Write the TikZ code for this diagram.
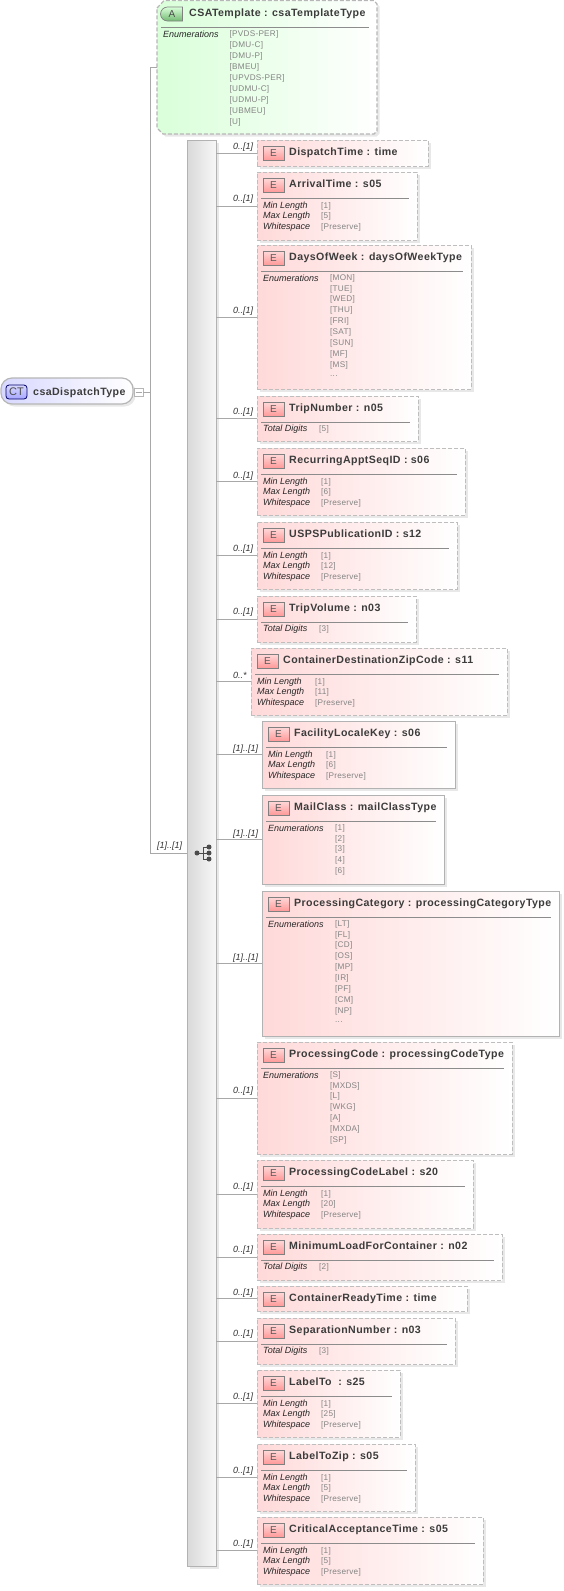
\documentclass[tikz,border=0pt]{standalone}
\usepackage{fontspec}
\setmainfont{Liberation Sans}
\newfontfamily\ttlfont[LetterSpace=4]{Liberation Sans}
\newfontfamily\valfont[LetterSpace=3]{Liberation Sans}
\usetikzlibrary{shadows,shapes.misc}
\definecolor{edge}{HTML}{B6B6B6}
\definecolor{boxedge}{HTML}{BEBEBE}
\definecolor{solidedge}{HTML}{B2B2B2}
\definecolor{conncol}{HTML}{A8A8A8}
\definecolor{pinkL}{HTML}{FFD9D9}
\definecolor{greenL}{HTML}{D9FFD9}
\definecolor{blueL}{HTML}{D8D8FF}
\definecolor{txt}{HTML}{3C3C3C}
\definecolor{valc}{HTML}{848484}
\newcommand\ddd{...}
\tikzset{
  x=1pt,y=-1pt,
  softshadow/.style={general shadow={fill=black,opacity=.09,shadow xshift=2.5pt,shadow yshift=-2.5pt}},
  elembox/.style={rectangle,draw=boxedge,line width=1pt,inner sep=0,outer sep=0,left color=pinkL,right color=white,softshadow},
  dashedbox/.style={dash pattern=on 4pt off 2pt},
  solidbox/.style={draw=solidedge},
  conn/.style={draw=conncol,line width=.8pt},
  rulec/.style={draw=black!45,line width=.8pt},
  titletext/.style={anchor=base west,inner sep=0,text=txt,font=\ttlfont\bfseries\fontsize{10.6}{11}\selectfont},
  facetlabel/.style={anchor=west,inner sep=0,text=black!85,font=\fontsize{9}{9}\itshape\selectfont},
  facetval/.style={anchor=west,inner sep=0,text=valc,font=\valfont\fontsize{8.2}{8.2}\selectfont},
  multi/.style={anchor=west,inner sep=0,text=black!80,font=\fontsize{9}{9}\itshape\selectfont},
  eicon/.style={rectangle,draw=black!50,line width=.7pt,inner sep=0,top color=pinkL,bottom color=red!40!white,minimum width=21pt,minimum height=14pt,text=black!65,font=\fontsize{10}{10}\selectfont},
}
% #1 name, #2 style, #3 left, #4 right, #5 top, #6 bottom, #7 title
\newcommand\elem[7]{%
  \node[elembox,#2,minimum width={(#4-#3)*1pt},minimum height={(#6-#5)*1pt}] (#1) at ({(#3+#4)/2},{(#5+#6)/2}) {};
  \node[eicon] (#1-icon) at ({#3+16.5},{#5+13}) {E};
  \node[titletext] (#1-title) at ({#3+32},{#5+15}) {#7};
  \draw[conn] (#1.west) -- (#1.west -| bar.east);
}
\newcommand\mult[3]{\node[multi] (#1-mult) at (233,{#2}) {#3};}
\newcommand\hrul[3]{\draw[rulec] ({#1+4},{#3+26}) -- ({#2-8},{#3+26});}
% #1 left, #2 top, #3 max
\newcommand\lenfacets[3]{%
  \node[facetlabel] at ({#1+6},{#2+34}) {Min Length};
  \node[facetlabel] at ({#1+6},{#2+44.3}) {Max Length};
  \node[facetlabel] at ({#1+6},{#2+55}) {Whitespace};
  \node[facetval] at ({#1+64},{#2+34}) {[1]};
  \node[facetval] at ({#1+64},{#2+44.3}) {[#3]};
  \node[facetval] at ({#1+64},{#2+55}) {[Preserve]};
}
\newcommand\digits[3]{%
  \node[facetlabel] at ({#1+6},{#2+33}) {Total Digits};
  \node[facetval] at ({#1+62},{#2+33}) {[#3]};
}
% #1 left, #2 top, #3 list
\newcommand\enums[3]{%
  \node[facetlabel] at ({#1+6},{#2+33}) {Enumerations};
  \foreach \v [count=\i from 0] in {#3} {
    \node[facetval] at ({#1+73},{#2+33+10.93*\i}) {\v};
  }
}
\begin{document}
\begin{tikzpicture}
\useasboundingbox (0,0) rectangle (564,1591);
% group bar
\node[rectangle,draw=solidedge,line width=1pt,inner sep=0,outer sep=0,left color=black!15,right color=black!3,softshadow,minimum width=29pt,minimum height=1426pt] (bar) at (201.5,853) {};
% root type
\node[rectangle,rounded corners=11pt,draw=edge,line width=1.2pt,left color=blueL,right color=white,inner sep=0,outer sep=0,softshadow,minimum width=132pt,minimum height=26pt] (ct) at (67,391) {};
\node[rectangle,rounded corners=3pt,draw=black!60!blue,line width=.8pt,top color=blueL,bottom color=blue!35!white,inner sep=0,minimum width=21pt,minimum height=14pt,text=black!70,font=\fontsize{11}{11}\selectfont] (cticon) at (16.5,392) {CT};
\node[titletext] (cttitle) at (33,395) {csaDispatchType};
\node[rectangle,draw=edge,line width=.8pt,fill=white,inner sep=0,outer sep=0,minimum width=9pt,minimum height=8pt] (collapse) at (138.5,392) {};
\draw[conncol,line width=.8pt] (135.5,392) -- (141.5,392);
% trunk
\coordinate (trunk) at (150,392);
\draw[conn] (collapse.east) -- (trunk);
% attribute
\node[rectangle,inner sep=0,outer sep=0,minimum width=220pt,minimum height=134pt] (csa) at (267,67) {};
\path[draw=edge,line width=1.2pt,dash pattern=on 4pt off 2pt,left color=greenL,right color=white,softshadow]
  (157,8) -- (164,0.6) -- (374,0.6) -- (377,4) -- (377,131) -- (374,134) -- (163,134) -- (157,128) -- cycle;
\node[rounded rectangle,rounded rectangle right arc=none,draw=black!50,line width=.7pt,top color=greenL,bottom color=green!50!black!55!white,inner sep=0,minimum width=22pt,minimum height=14pt,text=black!70,font=\fontsize{10}{10}\selectfont] (csaicon) at (172,14) {A};
\node[titletext] (csatitle) at (189,16) {CSATemplate : csaTemplateType};
\draw[rulec] (161,27) -- (369,27);
\node[facetlabel] (csalabel) at (163,34.5) {Enumerations};
\foreach \v [count=\i from 0] in {[PVDS-PER],[DMU-C],[DMU-P],[BMEU],[UPVDS-PER],[UDMU-C],[UDMU-P],[UBMEU],[U]} {
  \node[facetval] at (229.5,{34.5+10.93*\i}) {\v};
}
\draw[conn] (csa.west) -| (trunk);
\draw[conn] (bar.west) -| (trunk);
\node[multi] (barmult) at (157,846) {[1]..[1]};
% sequence icon
\coordinate (sa) at (197,853);
\coordinate (sb) at (203,853);
\coordinate (s1) at (209,847);
\coordinate (s2) at (209,853);
\coordinate (s3) at (209,859);
\draw[black!70,line width=.8pt] (sa) -- (s2) (s1) -- (sb |- s1) -- (sb |- s3) -- (s3);
\foreach \p in {sa,s1,s2,s3} \fill[black!70] (\p) circle (2.5pt);
% elements
\elem{dispatch}{dashedbox}{257}{428}{140}{166}{DispatchTime : time}
\mult{dispatch}{147}{0..[1]}
\elem{arrival}{dashedbox}{257}{417}{172}{240}{ArrivalTime : s05}
\mult{arrival}{199}{0..[1]}
\hrul{257}{417}{172}\lenfacets{257}{172}{5}
\elem{days}{dashedbox}{257}{471}{245}{389}{DaysOfWeek : daysOfWeekType}
\mult{days}{311}{0..[1]}
\hrul{257}{471}{245}\enums{257}{245}{[MON],[TUE],[WED],[THU],[FRI],[SAT],[SUN],[MF],[MS],\ddd}
\elem{tripnum}{dashedbox}{257}{418}{396}{441}{TripNumber : n05}
\mult{tripnum}{412}{0..[1]}
\hrul{257}{418}{396}\digits{257}{396}{5}
\elem{recurring}{dashedbox}{257}{465}{448}{515}{RecurringApptSeqID : s06}
\mult{recurring}{476}{0..[1]}
\hrul{257}{465}{448}\lenfacets{257}{448}{6}
\elem{usps}{dashedbox}{257}{457}{522}{589}{USPSPublicationID : s12}
\mult{usps}{549}{0..[1]}
\hrul{257}{457}{522}\lenfacets{257}{522}{12}
\elem{tripvol}{dashedbox}{257}{416}{596}{642}{TripVolume : n03}
\mult{tripvol}{612}{0..[1]}
\hrul{257}{416}{596}\digits{257}{596}{3}
\elem{zipcode}{dashedbox}{251}{507}{648}{715}{ContainerDestinationZipCode : s11}
\mult{zipcode}{675}{0..*}
\hrul{251}{507}{648}\lenfacets{251}{648}{11}
\elem{facility}{solidbox}{262}{455}{721}{788}{FacilityLocaleKey : s06}
\mult{facility}{749}{[1]..[1]}
\hrul{262}{455}{721}\lenfacets{262}{721}{6}
\elem{mailclass}{solidbox}{262}{444}{795}{884}{MailClass : mailClassType}
\mult{mailclass}{834}{[1]..[1]}
\hrul{262}{444}{795}\enums{262}{795}{[1],[2],[3],[4],[6]}
\elem{proccat}{solidbox}{262}{559}{891}{1036}{ProcessingCategory : processingCategoryType}
\mult{proccat}{958}{[1]..[1]}
\hrul{262}{559}{891}\enums{262}{891}{[LT],[FL],[CD],[OS],[MP],[IR],[PF],[CM],[NP],\ddd}
\elem{proccode}{dashedbox}{257}{512}{1042}{1154}{ProcessingCode : processingCodeType}
\mult{proccode}{1091}{0..[1]}
\hrul{257}{512}{1042}\enums{257}{1042}{[S],[MXDS],[L],[WKG],[A],[MXDA],[SP]}
\elem{pclabel}{dashedbox}{257}{473}{1160}{1228}{ProcessingCodeLabel : s20}
\mult{pclabel}{1187}{0..[1]}
\hrul{257}{473}{1160}\lenfacets{257}{1160}{20}
\elem{minload}{dashedbox}{257}{502}{1234}{1280}{MinimumLoadForContainer : n02}
\mult{minload}{1250}{0..[1]}
\hrul{257}{502}{1234}\digits{257}{1234}{2}
\elem{ready}{dashedbox}{257}{467}{1286}{1311}{ContainerReadyTime : time}
\mult{ready}{1293}{0..[1]}
\elem{sepnum}{dashedbox}{257}{455}{1318}{1364}{SeparationNumber : n03}
\mult{sepnum}{1334}{0..[1]}
\hrul{257}{455}{1318}\digits{257}{1318}{3}
\elem{labelto}{dashedbox}{257}{400}{1370}{1437}{LabelTo\ \ : s25}
\mult{labelto}{1397}{0..[1]}
\hrul{257}{400}{1370}\lenfacets{257}{1370}{25}
\elem{labelzip}{dashedbox}{257}{415}{1444}{1511}{LabelToZip : s05}
\mult{labelzip}{1471}{0..[1]}
\hrul{257}{415}{1444}\lenfacets{257}{1444}{5}
\elem{critical}{dashedbox}{257}{483}{1517}{1584}{CriticalAcceptanceTime : s05}
\mult{critical}{1544}{0..[1]}
\hrul{257}{483}{1517}\lenfacets{257}{1517}{5}
\end{tikzpicture}
\end{document}
